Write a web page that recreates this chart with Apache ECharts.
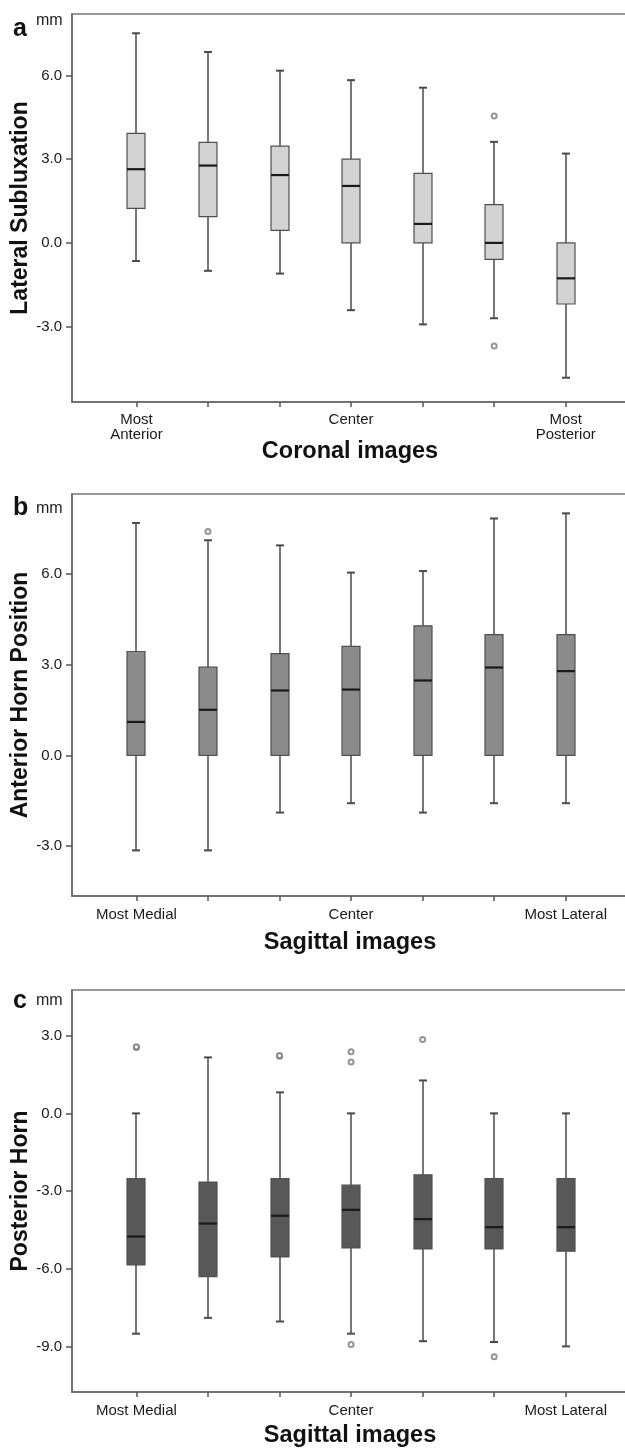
<!DOCTYPE html>
<html>
<head>
<meta charset="utf-8">
<title>Meniscus position box plots</title>
<script src="https://cdn.jsdelivr.net/npm/echarts@6/dist/echarts.min.js"></script>
<style>
  html, body { margin: 0; padding: 0; background: #fff; }
  #chart { width: 625px; height: 1448px; }
</style>
</head>
<body>
<div id="chart"></div>
<script>
// slice positions on the x axis (1 = first slice, 7 = last slice)
const positions = [1, 2, 3, 4, 5, 6, 7];
const coronalLabels = ['Most\nAnterior', '', '', 'Center', '', '', 'Most\nPosterior'];
const sagittalLabels = ['Most Medial', '', '', 'Center', '', '', 'Most Lateral'];

// a: lateral subluxation, coronal images (mm)
const latLow = [-0.65, -1.0, -1.1, -2.41, -2.92, -2.7, -4.83];
const latQ1 = [1.24, 0.94, 0.45, 0.0, 0.0, -0.59, -2.19];
const latMedian = [2.64, 2.77, 2.43, 2.04, 0.68, 0.0, -1.27];
const latQ3 = [3.92, 3.6, 3.47, 3.0, 2.49, 1.37, 0.0];
const latHigh = [7.51, 6.84, 6.17, 5.83, 5.56, 3.62, 3.2];
const latOutliers = [[6, 4.55], [6, -3.69]];
const latTicks = [-3, 0, 3, 6];

// b: anterior horn position, sagittal images (mm)
const antLow = [-3.14, -3.14, -1.89, -1.58, -1.89, -1.58, -1.58];
const antQ1 = [0, 0, 0, 0, 0, 0, 0];
const antMedian = [1.11, 1.51, 2.15, 2.18, 2.48, 2.91, 2.79];
const antQ3 = [3.44, 2.92, 3.37, 3.61, 4.29, 4.0, 4.0];
const antHigh = [7.69, 7.12, 6.95, 6.05, 6.1, 7.84, 8.01];
const antOutliers = [[2, 7.41]];
const antTicks = [-3, 0, 3, 6];

// c: posterior horn, sagittal images (mm)
const postLow = [-8.5, -7.89, -8.03, -8.5, -8.79, -8.82, -8.99];
const postQ1 = [-5.85, -6.3, -5.54, -5.19, -5.23, -5.23, -5.32];
const postMedian = [-4.75, -4.25, -3.95, -3.72, -4.08, -4.39, -4.39];
const postQ3 = [-2.52, -2.65, -2.52, -2.77, -2.37, -2.52, -2.52];
const postHigh = [0, 2.16, 0.81, 0, 1.27, 0, 0];
const postOutliers = [[1, 2.54], [1, 2.57], [3, 2.2], [3, 2.23], [4, 2.38], [4, 1.98], [4, -8.92], [5, 2.85], [6, -9.39]];
const postTicks = [-9, -6, -3, 0, 3];

const FONT = '"Liberation Sans", Arial, sans-serif';
const BOX_W = 18;
const CAP_W = 8;

function renderBox(params, api) {
  const x = api.value(0);
  const lo = api.coord([x, api.value(1)]);
  const q1 = api.coord([x, api.value(2)]);
  const md = api.coord([x, api.value(3)]);
  const q3 = api.coord([x, api.value(4)]);
  const hi = api.coord([x, api.value(5)]);
  const cx = Math.round(md[0]);
  const whisker = { stroke: '#4a4a4a', lineWidth: 1.5 };
  const cap = { stroke: '#4a4a4a', lineWidth: 2 };
  return {
    type: 'group',
    children: [
      { type: 'line', shape: { x1: cx, y1: lo[1], x2: cx, y2: q1[1] }, style: whisker },
      { type: 'line', shape: { x1: cx, y1: q3[1], x2: cx, y2: hi[1] }, style: whisker },
      { type: 'line', shape: { x1: cx - CAP_W / 2, y1: lo[1], x2: cx + CAP_W / 2, y2: lo[1] }, style: cap },
      { type: 'line', shape: { x1: cx - CAP_W / 2, y1: hi[1], x2: cx + CAP_W / 2, y2: hi[1] }, style: cap },
      {
        type: 'rect',
        shape: { x: cx - BOX_W / 2, y: q3[1], width: BOX_W, height: q1[1] - q3[1] },
        style: { fill: api.visual('color'), stroke: '#505050', lineWidth: 1.2 }
      },
      { type: 'line', shape: { x1: cx - BOX_W / 2, y1: md[1], x2: cx + BOX_W / 2, y2: md[1] }, style: { stroke: '#1a1a1a', lineWidth: 2.2 } }
    ]
  };
}

function panel(i, p) {
  const grid = {
    left: 72, right: -3, top: p.top, height: p.height,
    containLabel: false, outerBoundsMode: 'none',
    show: true, borderColor: '#777', borderWidth: 1.5, backgroundColor: '#fff'
  };
  const xAxis = {
    gridIndex: i, type: 'value', min: 0.1, max: 7.87,
    name: p.xName, nameLocation: 'middle', nameGap: p.xNameGap, nameMoveOverlap: false,
    nameTextStyle: { fontFamily: FONT, fontSize: 23.5, fontWeight: 'bold', color: '#111' },
    axisLine: { show: true, onZero: false, lineStyle: { color: '#666', width: 1.5 } },
    axisTick: { show: true, customValues: positions, length: 5, lineStyle: { color: '#555', width: 1.5 } },
    axisLabel: {
      show: true, customValues: positions, margin: p.xLabelMargin,
      fontFamily: FONT, fontSize: 15, lineHeight: 15, color: '#1a1a1a',
      formatter: v => p.labels[positions.indexOf(v)] || ''
    },
    splitLine: { show: false }
  };
  const yAxis = {
    gridIndex: i, type: 'value', min: p.yMin, max: p.yMax,
    name: p.yName, nameLocation: 'middle', nameGap: 40, nameMoveOverlap: false,
    nameTextStyle: { fontFamily: FONT, fontSize: 23, fontWeight: 'bold', color: '#111' },
    axisLine: { show: true, onZero: false, lineStyle: { color: '#666', width: 1.5 } },
    axisTick: { show: true, customValues: p.ticks, length: 6, lineStyle: { color: '#555', width: 1.5 } },
    axisLabel: {
      show: true, customValues: p.ticks, margin: 10,
      fontFamily: FONT, fontSize: 15, color: '#1a1a1a',
      formatter: v => v.toFixed(1)
    },
    splitLine: { show: false }
  };
  const boxes = positions.map((x, k) => [x, p.low[k], p.q1[k], p.median[k], p.q3[k], p.high[k]]);
  const series = [
    {
      type: 'custom', xAxisIndex: i, yAxisIndex: i,
      itemStyle: { color: p.fill },
      encode: { x: 0, y: [1, 2, 3, 4, 5] },
      renderItem: renderBox,
      data: boxes,
      silent: true
    },
    {
      type: 'scatter', xAxisIndex: i, yAxisIndex: i,
      symbol: 'emptyCircle', symbolSize: 5,
      itemStyle: { color: '#7a7a7a', borderColor: '#7a7a7a', borderWidth: 1.3 },
      data: p.outliers,
      z: 5,
      silent: true
    }
  ];
  return { grid, xAxis, yAxis, series };
}

const panels = [
  panel(0, {
    top: 14, height: 388, yMin: -5.7, yMax: 8.2, ticks: latTicks,
    yName: 'Lateral Subluxation', xName: 'Coronal images', xNameGap: 38, xLabelMargin: 10,
    labels: coronalLabels, fill: '#d3d3d3',
    low: latLow, q1: latQ1, median: latMedian, q3: latQ3, high: latHigh, outliers: latOutliers
  }),
  panel(1, {
    top: 494, height: 402, yMin: -4.65, yMax: 8.65, ticks: antTicks,
    yName: 'Anterior Horn Position', xName: 'Sagittal images', xNameGap: 35, xLabelMargin: 11,
    labels: sagittalLabels, fill: '#8b8b8b',
    low: antLow, q1: antQ1, median: antMedian, q3: antQ3, high: antHigh, outliers: antOutliers
  }),
  panel(2, {
    top: 990, height: 402, yMin: -10.75, yMax: 4.76, ticks: postTicks,
    yName: 'Posterior Horn', xName: 'Sagittal images', xNameGap: 32, xLabelMargin: 11,
    labels: sagittalLabels, fill: '#585858',
    low: postLow, q1: postQ1, median: postMedian, q3: postQ3, high: postHigh, outliers: postOutliers
  })
];

// panel letters and unit marks
const corner = [
  { letter: 'a', letterTop: 17, unitTop: 13 },
  { letter: 'b', letterTop: 496, unitTop: 501 },
  { letter: 'c', letterTop: 989, unitTop: 993 }
];
const graphics = [];
corner.forEach(c => {
  graphics.push({
    type: 'text', left: 13, top: c.letterTop,
    style: { text: c.letter, font: 'bold 25px ' + FONT, fill: '#111' }
  });
  graphics.push({
    type: 'text', left: 36, top: c.unitTop,
    style: { text: 'mm', font: '16px ' + FONT, fill: '#222' }
  });
});

const chart = echarts.init(document.getElementById('chart'), null, { renderer: 'canvas' });
chart.setOption({
  animation: false,
  backgroundColor: '#fff',
  textStyle: { fontFamily: FONT },
  grid: panels.map(p => p.grid),
  xAxis: panels.map(p => p.xAxis),
  yAxis: panels.map(p => p.yAxis),
  series: panels.reduce((all, p) => all.concat(p.series), []),
  graphic: graphics
});
</script>
</body>
</html>
